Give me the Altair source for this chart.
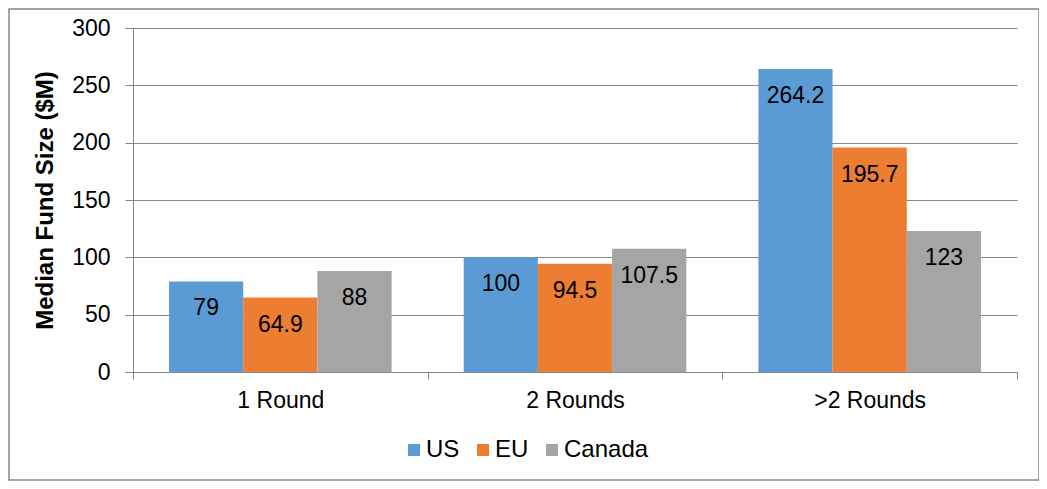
import altair as alt
import pandas as pd

categories = ["1 Round", "2 Rounds", ">2 Rounds"]
series = ["US", "EU", "Canada"]
us = [79, 100, 264.2]
eu = [64.9, 94.5, 195.7]
canada = [88, 107.5, 123]
colors = ["#5B9BD5", "#ED7D31", "#A5A5A5"]

rows = []
for i, c in enumerate(categories):
    for s, vals in zip(series, [us, eu, canada]):
        rows.append({"cat": c, "series": s, "value": vals[i], "label": f"{vals[i]:g}"})
df = pd.DataFrame(rows)

FONT = "Liberation Sans"
W, H = 884, 344

base = alt.Chart(df).encode(
    x=alt.X("cat:N", sort=categories, title=None,
            scale=alt.Scale(paddingInner=0, paddingOuter=0),
            axis=alt.Axis(labelAngle=0, tickBand="extent", tickSize=7, labelPadding=10,
                          domainColor="#868686", tickColor="#868686", labelFontSize=23,
                          labelFont=FONT, labelColor="#000000", grid=False)),
    xOffset=alt.XOffset("series:N", sort=series,
                        scale=alt.Scale(paddingInner=0, paddingOuter=0.486)),
)

bars = base.mark_bar().encode(
    y=alt.Y("value:Q", title="Median Fund Size ($M)",
            scale=alt.Scale(domain=[0, 300]),
            axis=alt.Axis(values=[0, 50, 100, 150, 200, 250, 300], tickSize=8, labelPadding=15,
                          domainColor="#868686", tickColor="#868686", gridColor="#868686",
                          labelFontSize=23, labelFont=FONT, labelColor="#000000",
                          titleFont=FONT, titleFontSize=24, titleFontWeight="bold",
                          titleColor="#000000", titlePadding=14)),
    color=alt.Color("series:N", sort=series,
                    scale=alt.Scale(domain=series, range=colors),
                    legend=alt.Legend(title=None, orient="none", direction="horizontal",
                                      legendX=269, legendY=410, symbolType="square",
                                      symbolSize=144, symbolStrokeWidth=0, labelFontSize=24,
                                      labelFont=FONT, labelColor="#000000", labelOffset=0,
                                      columnPadding=11)),
)

labels = base.mark_text(baseline="middle", dy=27, fontSize=23, font=FONT, color="#000000").encode(
    y=alt.Y("value:Q"),
    text="label:N",
)

border = alt.Chart(pd.DataFrame({"a": [0]})).mark_rect(
    fill=None, stroke="#868686", strokeWidth=1.5, clip=False
).encode(
    x=alt.value(-124), x2=alt.value(906), y=alt.value(-19), y2=alt.value(452)
)

chart = alt.layer(border, bars, labels).properties(
    width=W, height=H,
    autosize=alt.AutoSizeParams(type="none"),
    padding={"left": 125, "top": 20, "right": 22, "bottom": 109},
).configure_view(stroke=None)

chart.save("out.html", embed_options={"renderer": "svg", "actions": False})
